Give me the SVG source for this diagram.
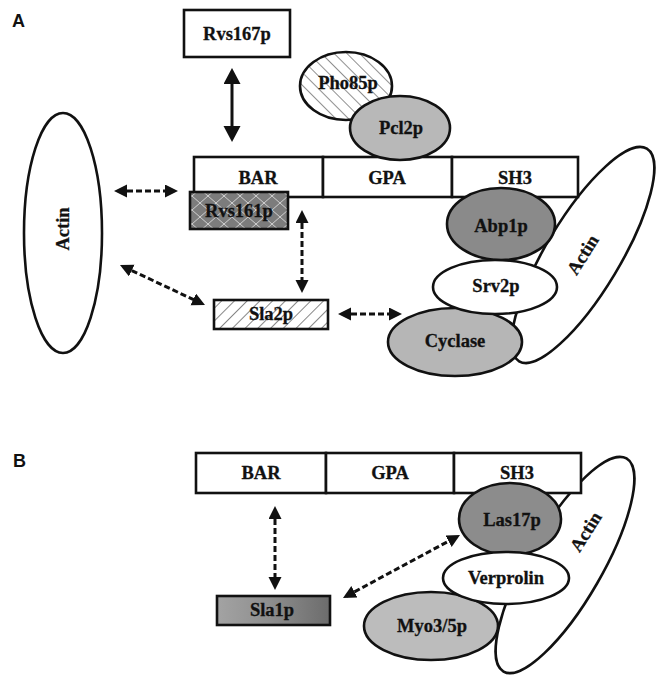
<svg xmlns="http://www.w3.org/2000/svg" width="658" height="676" viewBox="0 0 658 676">
<style>
.lbl{font-family:"Liberation Serif","Times New Roman",serif;font-weight:bold;font-size:18.5px;fill:#111;stroke:#111;stroke-width:0.3;text-anchor:middle}
.pl{font-family:"Liberation Sans",Arial,sans-serif;font-weight:bold;font-size:18px;fill:#111}
.box{stroke:#111;stroke-width:2.6}
.ell{stroke:#111;stroke-width:2.6}
.dash{stroke:#111;stroke-width:3;stroke-dasharray:6 3;fill:none}
.solid{stroke:#111;stroke-width:3;fill:none}
</style>
<defs>
<marker id="ad" markerUnits="userSpaceOnUse" markerWidth="14" markerHeight="14" refX="9" refY="6.5" orient="auto-start-reverse"><path d="M0,0 L13,6.5 L0,13 z" fill="#111"/></marker>
<marker id="as" markerUnits="userSpaceOnUse" markerWidth="18" markerHeight="18" refX="12" refY="8.5" orient="auto-start-reverse"><path d="M0,0 L16,8.5 L0,17 z" fill="#111"/></marker>
<pattern id="cross" patternUnits="userSpaceOnUse" width="16" height="14"><rect width="16" height="14" fill="#7c7c7c"/><path d="M0,0 L16,14 M16,0 L0,14" stroke="#d8d8d8" stroke-width="0.9"/></pattern>
<pattern id="hatchF" patternUnits="userSpaceOnUse" width="9" height="9" patternTransform="rotate(45)"><rect width="9" height="9" fill="#fff"/><line x1="0" y1="0" x2="0" y2="9" stroke="#222" stroke-width="1.1"/></pattern>
<pattern id="hatchB" patternUnits="userSpaceOnUse" width="9" height="9" patternTransform="rotate(-45)"><rect width="9" height="9" fill="#fff"/><line x1="0" y1="0" x2="0" y2="9" stroke="#333" stroke-width="1.1"/></pattern>
<linearGradient id="sla1" x1="0" y1="0" x2="1" y2="0"><stop offset="0" stop-color="#a3a3a3"/><stop offset="0.45" stop-color="#8f8f8f"/><stop offset="1" stop-color="#6c6c6c"/></linearGradient>
</defs>
<rect width="658" height="676" fill="#fff"/>

<text class="pl" x="12" y="27">A</text>
<text class="pl" x="13" y="467">B</text>

<!-- Panel A -->
<g id="actinA-left"><ellipse class="ell" cx="63" cy="233" rx="39" ry="120" fill="#fff"/><text class="lbl" transform="translate(69,229) rotate(-90)">Actin</text></g>
<g id="actinA-right"><ellipse class="ell" cx="583" cy="255" rx="37" ry="124" transform="rotate(31 583 255)" fill="#fff"/><text class="lbl" transform="translate(588,258) rotate(-58)">Actin</text></g>
<g id="rvs167p"><rect class="box" x="184" y="10" width="106" height="47" fill="#fff"/><text class="lbl" x="237" y="40">Rvs167p</text></g>
<g id="barA">
<rect class="box" x="194" y="157" width="129" height="40" fill="#fff"/><text class="lbl" x="258" y="184">BAR</text>
<rect class="box" x="323" y="157" width="129" height="40" fill="#fff"/><text class="lbl" x="387" y="184">GPA</text>
<rect class="box" x="452" y="157" width="126" height="40" fill="#fff"/><text class="lbl" x="515" y="184">SH3</text>
</g>
<g id="pho85p"><ellipse class="ell" cx="346" cy="86" rx="46" ry="34" fill="url(#hatchB)"/><text class="lbl" x="348" y="89">Pho85p</text></g>
<g id="pcl2p"><ellipse class="ell" cx="400" cy="128" rx="50" ry="32" fill="#b8b8b8"/><text class="lbl" x="401" y="134">Pcl2p</text></g>
<g id="rvs161p"><rect class="box" x="190" y="192" width="98" height="37" fill="url(#cross)"/><text class="lbl" x="239" y="217">Rvs161p</text></g>
<g id="cyclase"><ellipse class="ell" cx="455" cy="342" rx="67" ry="34" fill="#b6b6b6"/><text class="lbl" x="455" y="347">Cyclase</text></g>
<g id="abp1p"><ellipse class="ell" cx="501" cy="224" rx="54" ry="36" fill="#8a8a8a"/><text class="lbl" x="501" y="232">Abp1p</text></g>
<g id="srv2p"><ellipse class="ell" cx="495" cy="287" rx="62" ry="27" fill="#fff"/><text class="lbl" x="496" y="292">Srv2p</text></g>
<g id="sla2p"><rect class="box" x="214" y="300" width="114" height="29" fill="url(#hatchF)"/><text class="lbl" x="271" y="320">Sla2p</text></g>

<!-- Panel B -->
<g id="actinB"><ellipse class="ell" cx="565" cy="565" rx="37" ry="123" transform="rotate(30 565 565)" fill="#fff"/><text class="lbl" transform="translate(591,535) rotate(-58)">Actin</text></g>
<g id="barB">
<rect class="box" x="196" y="453" width="130" height="40" fill="#fff"/><text class="lbl" x="261" y="479">BAR</text>
<rect class="box" x="326" y="453" width="128" height="40" fill="#fff"/><text class="lbl" x="390" y="479">GPA</text>
<rect class="box" x="454" y="453" width="127" height="40" fill="#fff"/><text class="lbl" x="517" y="479">SH3</text>
</g>
<g id="myo35p"><ellipse class="ell" cx="431" cy="626" rx="67" ry="34" fill="#bcbcbc"/><text class="lbl" x="432" y="632">Myo3/5p</text></g>
<g id="las17p"><ellipse class="ell" cx="510" cy="519" rx="51" ry="36" fill="#8c8c8c"/><text class="lbl" x="512" y="526">Las17p</text></g>
<g id="verprolin"><ellipse class="ell" cx="506" cy="578" rx="63" ry="26" fill="#fff"/><text class="lbl" x="506" y="584">Verprolin</text></g>
<g id="sla1p"><rect class="box" x="217" y="596" width="113" height="29" fill="url(#sla1)"/><text class="lbl" x="272" y="616">Sla1p</text></g>

<g id="connectors">
<line class="solid" x1="232" y1="72" x2="232" y2="138" marker-start="url(#as)" marker-end="url(#as)"/>
<line class="dash" x1="118" y1="191" x2="174" y2="191" marker-start="url(#ad)" marker-end="url(#ad)"/>
<line class="dash" x1="302" y1="214" x2="302" y2="289" marker-start="url(#ad)" marker-end="url(#ad)"/>
<line class="dash" x1="123.6" y1="266.7" x2="201.4" y2="303.3" marker-start="url(#ad)" marker-end="url(#ad)"/>
<line class="dash" x1="342" y1="314" x2="398" y2="314" marker-start="url(#ad)" marker-end="url(#ad)"/>
<line class="dash" x1="275" y1="510" x2="275" y2="586" marker-start="url(#ad)" marker-end="url(#ad)"/>
<line class="dash" x1="346.5" y1="596.1" x2="456.5" y2="536.9" marker-start="url(#ad)" marker-end="url(#ad)"/>
</g>
</svg>
